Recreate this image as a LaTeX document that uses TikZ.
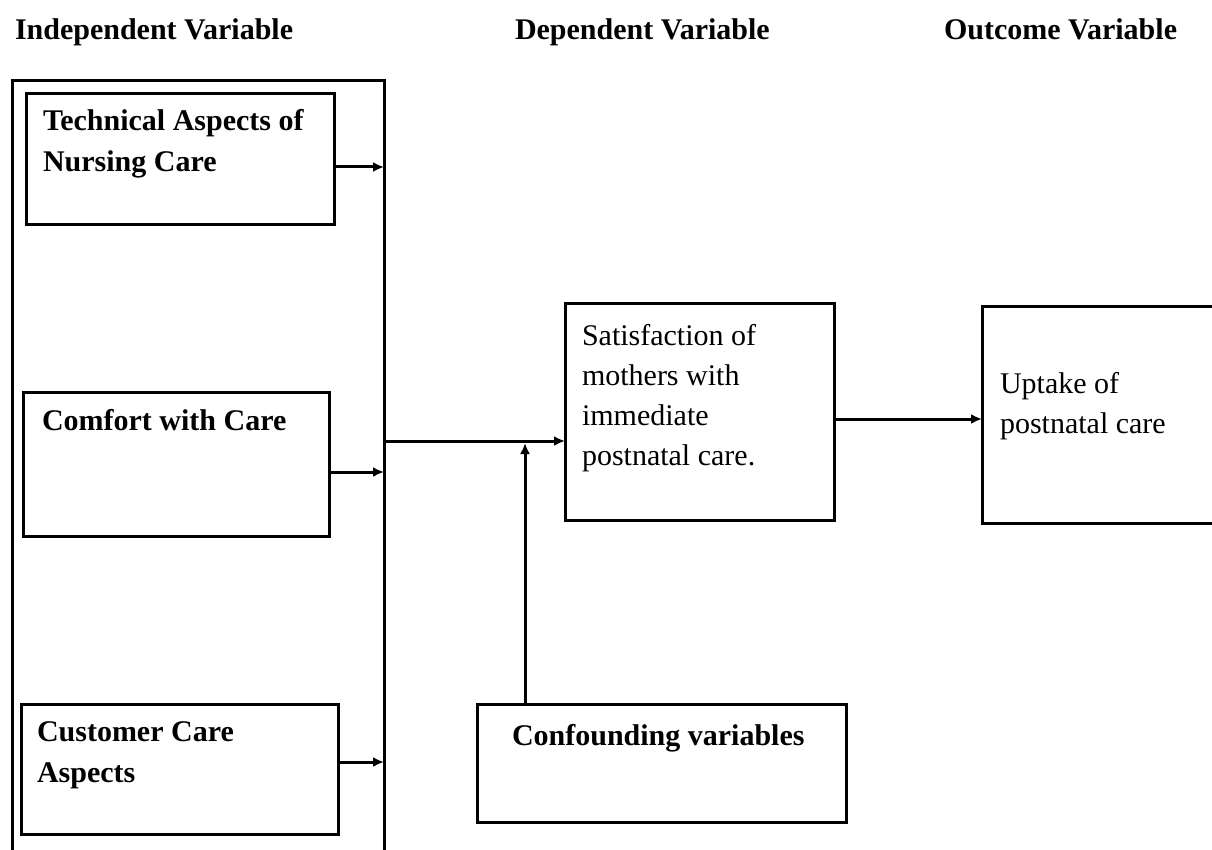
\documentclass[tikz,border=0pt]{standalone}
\usepackage{fontspec}
\setmainfont{Liberation Serif}
\usetikzlibrary{arrows.meta}
\begin{document}
\begin{tikzpicture}[x=1pt,y=-1pt,
  every node/.style={inner sep=0pt, outer sep=0pt},
  box/.style={draw, line width=3pt, rectangle, anchor=north west},
  hdr/.style={anchor=base west, font=\fontsize{30}{41}\selectfont\bfseries},
  btxt/.style={anchor=north west, align=left, font=\fontsize{30}{41}\selectfont\bfseries},
  rtxt/.style={anchor=north west, align=left, font=\fontsize{30}{40}\selectfont},
  arr/.style={line width=3pt, -{Latex[length=11pt,width=10pt]}},
  conn/.style={line width=3pt}]
\useasboundingbox (0,0) rectangle (1212,850);
\clip (0,0) rectangle (1212,850);
% headers
\node[hdr] (h1) at (15,40) {Independent Variable};
\node[hdr] (h2) at (515,40) {Dependent Variable};
\node[hdr] (h3) at (944,40) {Outcome Variable};
% boxes
\node[box, minimum width=372, minimum height=820] (outer) at (12,81) {};
\node[box, minimum width=308, minimum height=131] (b1) at (26,94) {};
\node[box, minimum width=306, minimum height=144] (b2) at (23,392) {};
\node[box, minimum width=317, minimum height=130] (b3) at (21,704) {};
\node[box, minimum width=269, minimum height=217] (sat) at (565,303) {};
\node[box, minimum width=300, minimum height=217] (upt) at (982,306) {};
\node[box, minimum width=369, minimum height=118] (conf) at (477,704) {};
% texts
\node[btxt] (t1) at (43,109.5) {Technical Aspects of\\Nursing Care};
\node[btxt] (t2) at (42,409.5) {Comfort with Care};
\node[btxt] (t3) at (37,721.5) {Customer Care\\Aspects};
\node[rtxt] (t4) at (582,324.5) {Satisfaction of\\mothers with\\immediate\\postnatal care.};
\node[rtxt] (t5) at (1000,372.5) {Uptake of\\postnatal care};
\node[btxt] (t6) at (512,724.5) {Confounding variables};
% helper coordinates
\coordinate (y1) at (0,167);
\coordinate (y2) at (0,472);
\coordinate (y3) at (0,762);
\coordinate (ym) at (0,441);
\coordinate (yo) at (0,419);
\coordinate (xc) at (525,0);
\coordinate (j) at (525,443);
% connectors
\draw[arr] (b1.east |- y1) -- (outer.east |- y1);
\draw[arr] (b2.east |- y2) -- (outer.east |- y2);
\draw[arr] (b3.east |- y3) -- (outer.east |- y3);
\draw[arr] (outer.east |- ym) -- (sat.west |- ym);
\draw[arr] (sat.east |- yo) -- (upt.west |- yo);
\draw[arr] (conf.north -| xc) -- (j);
\end{tikzpicture}
\end{document}
